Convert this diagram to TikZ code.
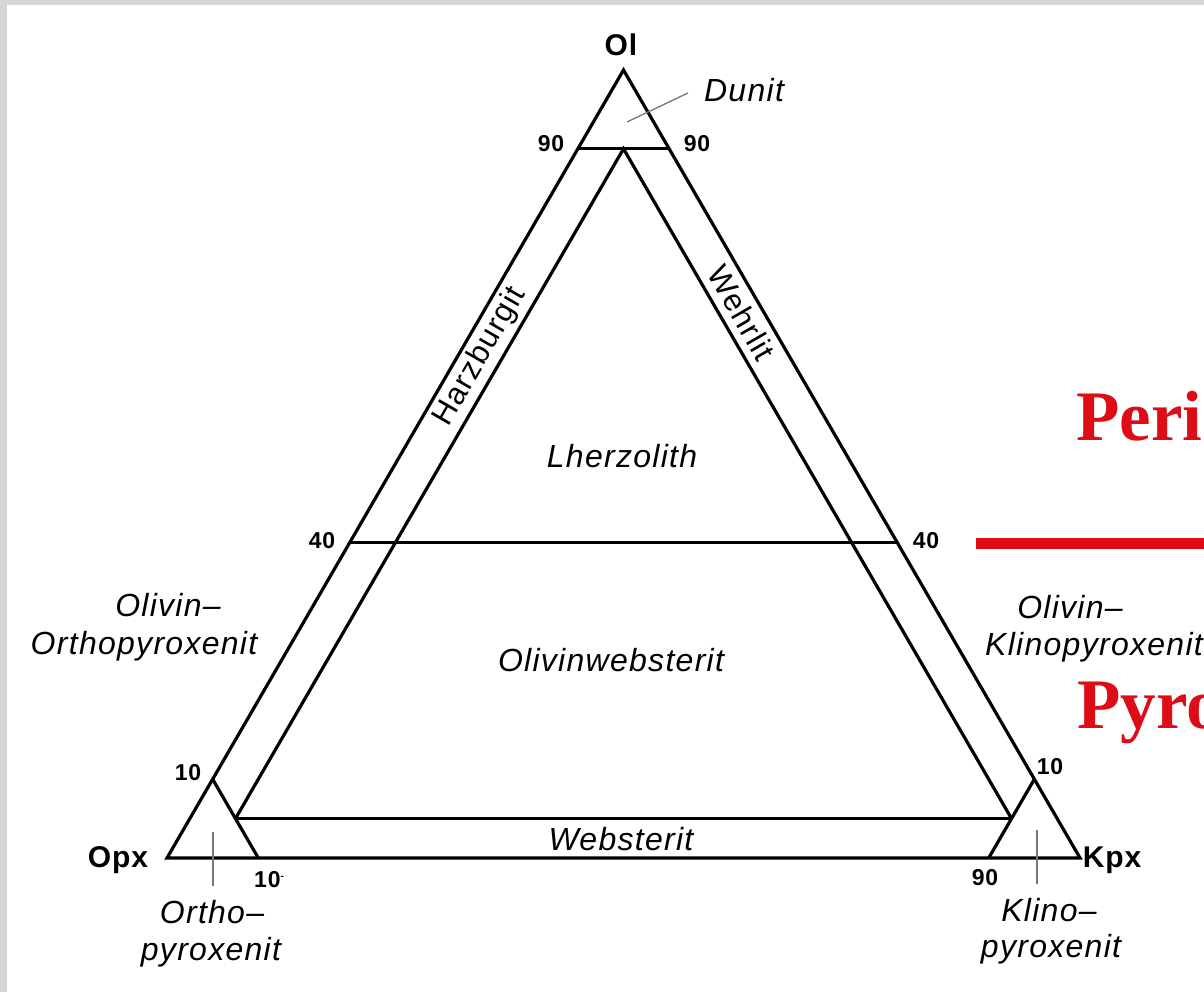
\documentclass[tikz,border=0pt]{standalone}
\usepackage{fontspec}
\setmainfont{Liberation Sans}
\newfontfamily\redserif{Liberation Serif}
\definecolor{redtxt}{RGB}{222,12,22}
\definecolor{frame}{RGB}{214,214,214}
\definecolor{leader}{RGB}{120,120,120}
\tikzset{
  edge/.style={line width=3.2pt, line join=miter, line cap=butt},
  lab/.style={font=\fontsize{32}{36}\selectfont\itshape\addfontfeatures{LetterSpace=4}, inner sep=0pt},
  strip/.style={font=\fontsize{31}{34}\selectfont\addfontfeatures{LetterSpace=4}, inner sep=0pt},
  num/.style={font=\fontsize{23}{26}\selectfont\bfseries\addfontfeatures{LetterSpace=4}, inner sep=0pt},
  corner/.style={font=\fontsize{30}{34}\selectfont\bfseries\addfontfeatures{LetterSpace=3}, inner sep=0pt},
  big/.style={font=\fontsize{71}{80}\selectfont\redserif\bfseries, text=redtxt, inner sep=0pt, anchor=base west},
  tick/.style={line width=1.3pt, leader}
}
\begin{document}
\begin{tikzpicture}[x=1pt,y=-1pt]
\useasboundingbox (0,0) rectangle (1204,992);
\clip (0,0) rectangle (1204,992);
\fill[frame] (0,0) rectangle (1204,992);
\fill[white] (7,5) rectangle (1204,992);

% ternary corners
\coordinate (A) at (623.5,70);
\coordinate (B) at (167,858);
\coordinate (C) at (1080,858);
% reference points
\coordinate (P90L) at (577.85,148.8);
\coordinate (P90R) at (669.15,148.8);
\coordinate (P90M) at (623.5,148.8);
\coordinate (P40L) at (349.6,542.8);
\coordinate (P40R) at (897.4,542.8);
\coordinate (P10L) at (212.65,779.2);
\coordinate (Q10L) at (258.3,858);
\coordinate (P10R) at (1034.35,779.2);
\coordinate (Q10R) at (988.7,858);
\coordinate (IL) at (235.475,818.6);
\coordinate (IR) at (1011.525,818.6);

% outer triangle
\draw[edge] (A) -- (B) -- (C) -- cycle;
% field boundaries
\draw[edge] (P90L) -- (P90R);
\draw[edge] (P40L) -- (P40R);
\draw[edge] (P10L) -- (Q10L);
\draw[edge] (P10R) -- (Q10R);
\draw[edge] (IL) -- (P90M) -- (IR);
\draw[edge] (IL) -- (IR);

% leaders and ticks
\coordinate (dunA) at (627,122);
\coordinate (dunB) at (688,93);
\draw[tick] (dunA) -- (dunB);
\coordinate (otA) at (213,832);
\coordinate (otB) at (213,886);
\draw[tick] (otA) -- (otB);
\coordinate (ktA) at (1037,830);
\coordinate (ktB) at (1037,884);
\draw[tick] (ktA) -- (ktB);

% corner labels
\node[corner] (ol) at (621,45) {Ol};
\node[corner] (opx) at (118,860) {Opx};
\node[corner] (kpx) at (1112,860) {Kpx};

% numbers
\node[num] (n90l) at (551,144) {90};
\node[num] (n90r) at (697,144) {90};
\node[num] (n40l) at (322,541) {40};
\node[num] (n40r) at (926,541) {40};
\node[num] (n10l) at (188,773) {10};
\node[num] (n10r) at (1050,767) {10};
\node[num] (n10b) at (269,880) {10\raisebox{0.35em}{\fontsize{10}{10}\selectfont -}};
\node[num] (n90b) at (985,878) {90};

% field names
\node[lab] (dunit) at (744,90) {Dunit};
\node[lab] (lherz) at (622,456) {Lherzolith};
\node[lab] (olweb) at (611,660) {Olivinwebsterit};
\node[lab] (webst) at (621,839) {Websterit};
\node[strip, rotate=60] (harz) at (480,357) {Harzburgit};
\node[strip, rotate=-60] (wehr) at (741.5,313) {Wehrlit};

\node[lab] (oox1) at (168,605) {Olivin–};
\node[lab] (oox2) at (144,646) {Orthopyroxenit};
\node[lab] (okx1) at (1070,607) {Olivin–};
\node[lab] (okx2) at (1094,647) {Klinopyroxenit};
\node[lab] (ortho1) at (212,912) {Ortho–};
\node[lab] (ortho2) at (211,952) {pyroxenit};
\node[lab] (klino1) at (1049,910) {Klino–};
\node[lab] (klino2) at (1051,949) {pyroxenit};

% red annotation
\coordinate (rlA) at (976,543);
\coordinate (rlB) at (1204,543);
\draw[redtxt, line width=11pt] (rlA) -- (rlB);
\node[big] (peri) at (1076,440) {Peri};
\node[big] (pyro) at (1077,728) {Pyro};
\end{tikzpicture}
\end{document}
